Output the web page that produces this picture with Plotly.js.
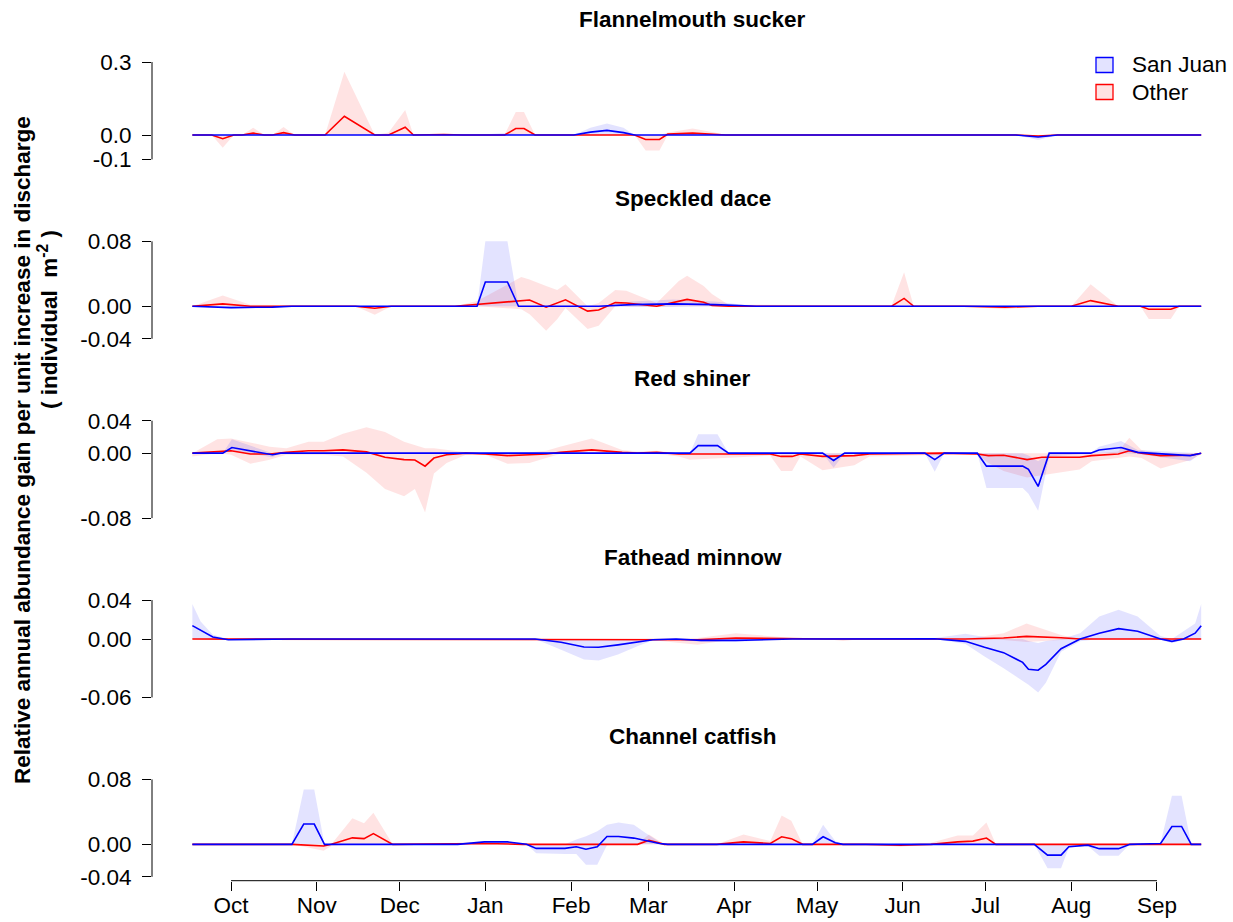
<!DOCTYPE html>
<html>
<head>
<meta charset="utf-8">
<script src="https://cdn.plot.ly/plotly-3.0.1.min.js"></script>
<style>html,body{margin:0;padding:0;background:#fff;}#chart{width:1233px;height:922px;}</style>
</head>
<body>
<div id="chart"></div>
<script>
// x = days since 1 October
const monthTicks = [0, 31, 61, 92, 123, 151, 182, 212, 243, 273, 304, 335];
const monthLabels = ['Oct','Nov','Dec','Jan','Feb','Mar','Apr','May','Jun','Jul','Aug','Sep'];
const panelTitles = ['Flannelmouth sucker','Speckled dace','Red shiner','Fathead minnow','Channel catfish'];
const groupNames = ['San Juan','Other'];

// ---- Flannelmouth sucker ----
const fmsX_SJ    = [-14, 88, 99, 110, 124, 130, 136, 142, 146, 284, 292, 299, 351];
const fmsMean_SJ = [0, 0, 0.003, 0, 0, 0.012, 0.019, 0.01, 0, 0, -0.008, 0, 0];
const fmsLo_SJ   = [0, 0, 0, 0, 0, 0, 0, 0, 0, 0, -0.02, 0, 0];
const fmsHi_SJ   = [0, 0, 0.008, 0, 0, 0.03, 0.047, 0.03, 0, 0, 0, 0, 0];
const fmsX_OT    = [-14,-7,-3,1,4,8,12,15,19,23,34,41,52,57,63,66,77,84,99,103,106,110,146,150,155,158,167,175,179,284,292,299,351];
const fmsMean_OT = [0,0,-0.015,0,0,0.008,0,0,0.01,0,0,0.077,0,0,0.032,0,0.002,0,0,0.027,0.027,0,0,-0.018,-0.018,0.004,0.008,0.002,0,0,-0.004,0,0];
const fmsLo_OT   = [0,0,-0.052,0,0,0,0,0,0,0,0,0,0,0,0,0,0,0,-0.002,0,0,0,0,-0.063,-0.063,0,0,0,0,0,-0.01,0,0];
const fmsHi_OT   = [0,0,0,0,0,0.03,0,0,0.033,0,0,0.26,0,0.01,0.103,0,0.004,0,0.002,0.095,0.095,0,0,0,0,0.01,0.027,0.01,0,0,0,0,0];

// ---- Speckled dace ----
const sdX_SJ    = [-14, 0, 15, 22, 89, 92, 100, 104, 133, 145, 160, 175, 190, 351];
const sdMean_SJ = [0, -0.0016, -0.001, 0, 0, 0.03, 0.03, 0, 0, 0.002, 0.003, 0.002, 0, 0];
const sdLo_SJ   = [0, -0.003, -0.002, 0, 0, 0, 0, 0, 0, -0.001, -0.001, 0, 0, 0];
const sdHi_SJ   = [0, 0, 0, 0, 0, 0.08, 0.08, 0, 0, 0.006, 0.0085, 0.006, 0, 0];
const sdX_OT    = [-14,-3,7,45,52,58,81,89,105,108,114,118,121,129,133,139,143,154,162,165,171,174,180,239,243.5,247,265,280,292,304,311,321,329,332,340,343,351];
const sdMean_OT = [0,0.003,0,0,-0.0024,0,0,0.0024,0.0077,0.0077,-0.0012,0.004,0.008,-0.006,-0.0045,0.0045,0.004,0,0.006,0.0085,0.005,0.001,0,0,0.0097,0,0,-0.001,0,0,0.007,0,0,-0.0036,-0.0036,0,0];
const sdLo_OT   = [0,0,0,0,-0.0105,0,0,0,-0.0036,-0.0097,-0.03,-0.016,-0.002,-0.028,-0.024,0,0,-0.001,0,0,0,0,0,0,0,0,0,-0.0036,0,0,0,0,0,-0.0158,-0.0158,0,0];
const sdHi_OT   = [0,0.0133,0.002,0,0,0,0,0.0065,0.036,0.033,0.025,0.02,0.027,0,0.004,0.02,0.019,0.004,0.031,0.0375,0.025,0.015,0.002,0.001,0.042,0,0,0,0,0,0.027,0,0,0,0,0,0];

// ---- Red shiner ----
const rsX_SJ    = [-14,-3,0.3,15,18,166,169,176,180,214,218,222,251,254.6,258,270,273.3,286.4,288.5,292,296,311,314,322,328,347,351];
const rsMean_SJ = [0,0,0.007,-0.002,0,0,0.0093,0.0093,0,0,-0.009,0,0,-0.008,0,0,-0.016,-0.016,-0.02,-0.041,0,0,0.004,0.007,0.001,-0.003,0];
const rsLo_SJ   = [0,0,0.003,-0.005,0,0,0,0,0,0,-0.018,0,0,-0.023,0,0,-0.043,-0.043,-0.05,-0.071,-0.004,0,0,0,-0.001,-0.01,0];
const rsHi_SJ   = [0,0,0.017,0,0,0,0.0234,0.0234,0,0,0,0,0,0,0,0,0,0,-0.003,-0.01,0,0,0.008,0.015,0.004,0,0];
const rsX_OT    = [-14,-5,0,7,14,20,28,33.5,40.5,49,55.7,62.6,66.5,70.2,73.4,78,85,92,100,108,114,119,130.5,141.5,147,154,162,166,195,199,203,206,214,225.5,231,257,270,274,279.5,288,293.4,307,311.4,321,325,329.4,336.3,347.4,351];
const rsMean_OT = [0,0.0025,0.003,-0.001,-0.001,0.001,0.003,0.003,0.004,0.0016,-0.005,-0.008,-0.0085,-0.016,-0.006,-0.002,0,-0.001,-0.003,-0.002,-0.001,0.001,0.004,0.001,0,0.001,-0.001,-0.001,-0.001,-0.004,-0.004,-0.001,-0.004,-0.003,-0.001,0,-0.001,-0.003,-0.0025,-0.008,-0.005,-0.005,-0.003,-0.001,0.003,0,-0.003,-0.0025,0];
const rsLo_OT   = [-0.004,0,-0.002,-0.013,-0.008,-0.002,-0.002,-0.002,-0.004,-0.024,-0.044,-0.053,-0.044,-0.073,-0.025,-0.012,-0.002,-0.002,-0.013,-0.012,-0.006,-0.001,0,-0.001,-0.001,-0.001,-0.004,-0.008,-0.003,-0.022,-0.022,-0.004,-0.021,-0.015,-0.004,-0.002,-0.002,-0.012,-0.022,-0.03,-0.027,-0.02,-0.01,-0.006,-0.004,-0.006,-0.019,-0.008,-0.001];
const rsHi_OT   = [0,0.017,0.018,0.013,0.008,0.006,0.014,0.014,0.024,0.032,0.026,0.014,0.01,0.006,0.006,0.004,0.001,0,0,0.001,0.003,0.008,0.018,0.004,0.002,0.003,0,0,0,0,0,0,0,0,0,0.001,0,0,0,0,0,0,0,0.002,0.019,0.004,0,0,0];

// ---- Fathead minnow ----
const fmX_SJ    = [-14,-11,-6.6,-1,11,22,110,119.4,127.7,133,140,147,152.6,161,170,182.6,203,254.6,265.7,272.6,279.5,286.4,288.5,292,294.8,300.3,307.2,314.1,321.1,328,336.3,340.4,344.6,348.8,351];
const fmMean_SJ = [0.0137,0.009,0.002,-0.0007,-0.0003,0,0,-0.0034,-0.0082,-0.0085,-0.006,-0.003,-0.0007,0,-0.0014,-0.0014,0,0.0003,-0.0024,-0.0085,-0.014,-0.024,-0.031,-0.032,-0.026,-0.01,0,0.006,0.0106,0.008,0,-0.0024,0,0.006,0.0137];
const fmLo_SJ   = [0,0,-0.001,-0.001,-0.001,0,0,-0.011,-0.021,-0.022,-0.016,-0.0075,-0.0014,0,-0.003,-0.003,0,0,-0.005,-0.018,-0.03,-0.043,-0.047,-0.055,-0.045,-0.013,-0.0024,0,0,0,-0.001,-0.004,-0.001,0,0];
const fmHi_SJ   = [0.036,0.018,0.0045,0,0,0,0,0,0,0,0,0,0,0,0,0,0,0.001,0.0055,0.002,0,0,-0.002,-0.004,-0.002,0,0.006,0.023,0.03,0.023,0.003,0,0.008,0.016,0.036];
const fmX_OT    = [-14,148,168.7,182.6,203.4,215,221.4,228,265.7,279.5,287.8,300.3,307.2,351];
const fmMean_OT = [0,0,-0.0007,0.001,0,0,0,0,0,0.001,0.0027,0.0013,0,0];
const fmLo_OT   = [0,0,-0.006,0,-0.001,0,-0.002,0,0,-0.001,-0.003,-0.001,0,0];
const fmHi_OT   = [0,0,0.001,0.006,0.001,0,0,0,0,0.006,0.016,0.004,0,0];

// ---- Channel catfish ----
const ccX_SJ    = [-14,22,26.3,30.1,33.8,82,91.7,100,106.9,110.4,120.8,124.9,128.4,132.5,136,140.2,145.7,150,155,158,210.3,214.2,218.6,221.4,290.6,295.4,300.3,303.1,310,314.1,321.1,325.2,336.3,340.4,343.9,347.4,351];
const ccMean_SJ = [0,0,0.025,0.025,0,0,0.003,0.003,0,-0.005,-0.005,-0.003,-0.006,-0.003,0.0097,0.0097,0.0077,0.0044,0.001,0,0,0.0093,0.002,0,0,-0.0133,-0.0133,-0.003,-0.001,-0.0053,-0.0053,0,0.001,0.022,0.022,0,0];
const ccLo_SJ   = [0,0,0,0,0,0,0,0,0,-0.011,-0.012,-0.012,-0.025,-0.025,-0.001,0,0,0,0,0,0,0,0,0,0,-0.0295,-0.0295,-0.004,-0.002,-0.014,-0.014,0,0,0,0,0,0];
const ccHi_SJ   = [0,0,0.0675,0.0675,0,0,0.004,0.004,0,0,0,0.006,0.01,0.016,0.024,0.027,0.024,0.014,0.003,0,0,0.024,0.004,0,0,0,0,0,0,0,0,0,0.002,0.06,0.06,0,0];
const ccX_OT    = [-14,22,33.5,36.3,43.9,48.1,51.5,58.5,91.7,105.5,147.1,151.2,156.8,175.7,185.4,195.1,199.2,202.7,206.8,229.7,242.1,253.2,262.9,268.4,273.3,276.7,351];
const ccMean_OT = [0,0,-0.002,0,0.008,0.007,0.0133,0,0.001,0,0,0.005,0,0,0.003,0.001,0.0093,0.007,0,0,-0.001,0,0.003,0.004,0.0077,0,0];
const ccLo_OT   = [0,0,-0.008,-0.002,0,0,0,0,0,0,0,0,0,0,0,0,0,0,0,0,-0.003,0,0,0,0,0,0];
const ccHi_OT   = [0,0,0,0,0.032,0.026,0.039,0,0.002,0,0.001,0.012,0,0,0.012,0.004,0.0355,0.029,0,0,0,0.002,0.011,0.011,0.027,0,0];

// y-axis tick values / labels per panel
const yTickVals = [[-0.1,0,0.3],[-0.04,0,0.08],[-0.08,0,0.04],[-0.06,0,0.04],[-0.04,0,0.08]];
const yTickText = [['-0.1','0.0','0.3'],['-0.04','0.00','0.08'],['-0.08','0.00','0.04'],['-0.06','0.00','0.04'],['-0.04','0.00','0.08']];

// ---------------- build ----------------
const panels = [
  {sj:[fmsX_SJ,fmsMean_SJ,fmsLo_SJ,fmsHi_SJ], ot:[fmsX_OT,fmsMean_OT,fmsLo_OT,fmsHi_OT]},
  {sj:[sdX_SJ,sdMean_SJ,sdLo_SJ,sdHi_SJ],     ot:[sdX_OT,sdMean_OT,sdLo_OT,sdHi_OT]},
  {sj:[rsX_SJ,rsMean_SJ,rsLo_SJ,rsHi_SJ],     ot:[rsX_OT,rsMean_OT,rsLo_OT,rsHi_OT]},
  {sj:[fmX_SJ,fmMean_SJ,fmLo_SJ,fmHi_SJ],     ot:[fmX_OT,fmMean_OT,fmLo_OT,fmHi_OT]},
  {sj:[ccX_SJ,ccMean_SJ,ccLo_SJ,ccHi_SJ],     ot:[ccX_OT,ccMean_OT,ccLo_OT,ccHi_OT]}
];

const W = 1233, H = 922;
const plotTopPx = [58.1, 237.45, 416.8, 596.15, 775.5];
const plotHPx = 105.2;
const titlePx = [20, 199, 378, 557, 736];
const blue = '#0000FF', red = '#FF0000';
const blueFill = 'rgba(0,0,255,0.11)', redFill = 'rgba(255,0,0,0.11)';
const FONT = '"Liberation Sans", Arial, Helvetica, sans-serif';
const FS = 22.5;

function band(s, col, ax) {
  const [x, m, lo, hi] = s;
  return {x: x.concat(x.slice().reverse()), y: hi.concat(lo.slice().reverse()),
    type:'scatter', mode:'lines', fill:'toself', fillcolor: col, line:{width:0, color:'rgba(0,0,0,0)'},
    xaxis:'x', yaxis: ax, hoverinfo:'skip', showlegend:false};
}
function line(s, col, ax) {
  return {x: s[0], y: s[1], type:'scatter', mode:'lines', line:{color: col, width:1.6},
    xaxis:'x', yaxis: ax, hoverinfo:'skip', showlegend:false};
}

const traces = [];
const layout = {
  width: W, height: H,
  margin: {l:152, r:0, t:0, b:0},
  paper_bgcolor:'#ffffff', plot_bgcolor:'rgba(0,0,0,0)',
  font: {family: FONT, color:'#000', size: FS},
  showlegend:false,
  shapes: [], annotations: []
};

layout.xaxis = {
  domain:[0,1], range:[-28.6, 362.5], anchor:'y5',
  tickmode:'array', tickvals: monthTicks, ticktext: monthLabels,
  ticks:'outside', ticklen:9, tickwidth:1, tickcolor:'#000',
  showgrid:false, zeroline:false, showline:false,
  tickfont:{size:FS, family:FONT, color:'#000'}, ticklabelstandoff:-5
};

panels.forEach((p, i) => {
  const ax = i === 0 ? 'y' : 'y' + (i+1);
  const axKey = i === 0 ? 'yaxis' : 'yaxis' + (i+1);
  const tv = yTickVals[i];
  const lo = tv[0], hi = tv[tv.length-1], pad = 0.04*(hi-lo);
  const top = plotTopPx[i], bot = top + plotHPx;
  layout[axKey] = {
    domain:[1 - bot/H, 1 - top/H], range:[lo-pad, hi+pad], anchor:'x',
    tickmode:'array', tickvals: tv, ticktext: yTickText[i],
    ticks:'outside', ticklen:9, tickwidth:1, tickcolor:'#000',
    showgrid:false, zeroline:false, showline:false,
    tickfont:{size:FS, family:FONT, color:'#000'}, ticklabelstandoff:6
  };
  traces.push(band(p.ot, redFill, ax));
  traces.push(band(p.sj, blueFill, ax));
  traces.push(line(p.ot, red, ax));
  traces.push(line(p.sj, blue, ax));
  // R-style axis line spanning first to last tick
  layout.shapes.push({type:'line', xref:'paper', yref: ax, x0:0, x1:0, y0:lo, y1:hi,
    line:{color:'#000', width:1}});
  layout.annotations.push({text: panelTitles[i], xref:'paper', yref:'paper', x:0.5, y:1 - titlePx[i]/H,
    xanchor:'center', yanchor:'middle', showarrow:false,
    font:{size:FS, family:FONT, weight:'bold', color:'#000'}});
});

// bottom axis line (first to last month tick)
layout.shapes.push({type:'line', xref:'x', yref:'paper', x0:monthTicks[0], x1:monthTicks[monthTicks.length-1],
  y0: 1 - (plotTopPx[4]+plotHPx)/H, y1: 1 - (plotTopPx[4]+plotHPx)/H, line:{color:'#000', width:1}});

// y-axis title (two lines)
layout.annotations.push({text:'Relative annual abundance gain per unit increase in discharge',
  xref:'paper', yref:'paper', x:(22-152)/1081, y:1-450/H, xanchor:'center', yanchor:'middle',
  textangle:-90, showarrow:false, font:{size:FS, family:FONT, weight:'bold', color:'#000'}});
layout.annotations.push({text:'( individual  m<sup>-2</sup> )',
  xref:'paper', yref:'paper', x:(48-152)/1081, y:1-320/H, xanchor:'center', yanchor:'middle',
  textangle:-90, showarrow:false, font:{size:FS, family:FONT, weight:'bold', color:'#000'}});

// legend (manual)
const legY = [65, 92];
const legFill = ['rgba(0,0,255,0.11)', 'rgba(255,0,0,0.11)'];
const legLine = [blue, red];
groupNames.forEach((g, k) => {
  const cy = legY[k];
  layout.shapes.push({type:'rect', xref:'paper', yref:'paper',
    x0:(1096-152)/1081, x1:(1113-152)/1081, y0:1-(cy+7.5)/H, y1:1-(cy-7.5)/H,
    fillcolor: legFill[k], line:{color: legLine[k], width:1.3}});
  layout.annotations.push({text:g, xref:'paper', yref:'paper', x:(1130-152)/1081, y:1-cy/H,
    xanchor:'left', yanchor:'middle', showarrow:false, font:{size:FS, family:FONT, color:'#000'}});
});

Plotly.newPlot('chart', traces, layout, {staticPlot:true, displayModeBar:false});
</script>
</body>
</html>
